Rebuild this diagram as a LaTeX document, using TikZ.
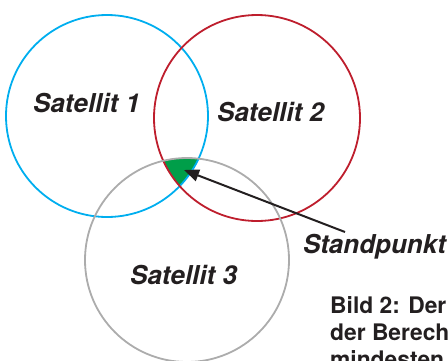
\documentclass[tikz,border=0pt]{standalone}
\usepackage{fontspec}
\setmainfont{TeX Gyre Heros}
\usetikzlibrary{arrows.meta}
\definecolor{satblue}{RGB}{0,174,239}
\definecolor{satred}{RGB}{190,30,45}
\definecolor{satgray}{RGB}{172,172,172}
\definecolor{fixgreen}{RGB}{0,158,73}
\definecolor{ink}{RGB}{35,31,32}
\tikzset{
  ring/.style={draw, line width=1.8pt, circle, inner sep=0pt, minimum size=#1},
  label/.style={text=ink, font=\fontsize{26}{30}\selectfont\bfseries\itshape, anchor=base west, inner sep=0pt},
  caption/.style={text=ink, font=\fontsize{22.8}{27}\selectfont\bfseries, anchor=base west, inner sep=0pt},
  pointer/.style={draw=ink, line width=2pt, -{Triangle[length=15pt,width=12pt]}}
}
\begin{document}
\begin{tikzpicture}[x=1pt,y=-1pt]
\useasboundingbox (0,0) rectangle (448,360);
\clip (0,0) rectangle (448,360);
% common area of all three ranges
\begin{scope}
  \clip (107,116) circle (101pt);
  \clip (257,118) circle (103pt);
  \fill[fixgreen] (187,260) circle (102pt);
\end{scope}
% range circles
\node[ring=202pt, draw=satblue] (sat1) at (107,116) {};
\node[ring=206pt, draw=satred] (sat2) at (257,118) {};
\node[ring=204pt, draw=satgray] (sat3) at (187,260) {};
% labels
\node[label] (l1) at (33,112) {Satellit 1};
\node[label] (l2) at (217,121) {Satellit 2};
\node[label] (l3) at (130,284) {Satellit 3};
\node[label] (pos) at (303,253) {Standpunkt};
\coordinate (tail) at (345,232);
\coordinate (fix) at (184,170);
\draw[pointer] (tail) -- (fix);
% caption, running on past the right and bottom edges
\node[caption] (cap1) at (330,313) {Bild 2: Der};
\node[caption] (cap2) at (330,340) {der Berech};
\node[caption] (cap3) at (330,367) {mindesten};
\end{tikzpicture}
\end{document}
